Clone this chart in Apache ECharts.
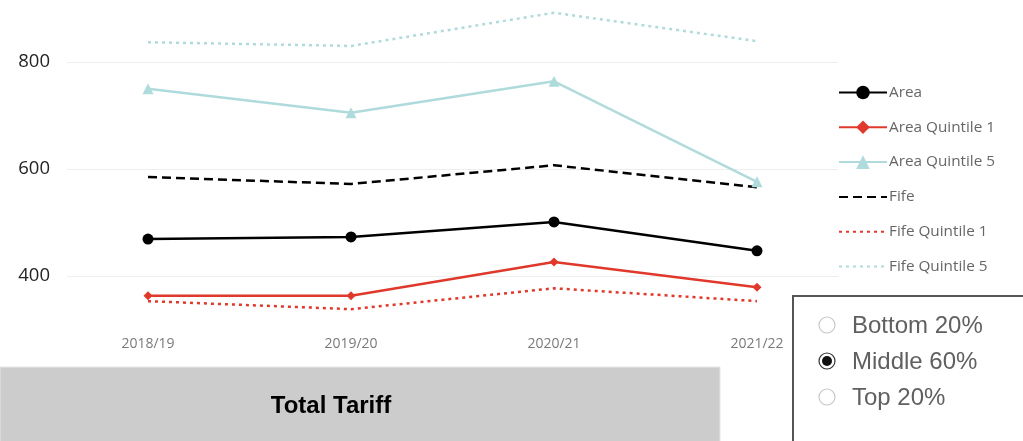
<!DOCTYPE html>
<html>
<head>
<meta charset="utf-8">
<script src="https://cdn.jsdelivr.net/npm/echarts@6/dist/echarts.min.js"></script>
<style>
  html, body { margin: 0; padding: 0; background: #fff; }
  #main { width: 1023px; height: 441px; }
</style>
</head>
<body>
<div id="main"></div>
<script>
const years = ["2018/19", "2019/20", "2020/21", "2021/22"];

const area = [469, 473, 501, 447];
const areaQ1 = [363, 363, 426, 379];
const areaQ5 = [750, 705, 764, 576];
const fife = [585, 572, 607, 566];
const fifeQ1 = [353, 338, 377, 353];
const fifeQ5 = [837, 830, 892, 839];

const radioOptions = ["Bottom 20%", "Middle 60%", "Top 20%"];
const selectedOption = "Middle 60%";

const RED = "#e0392c";
const TEAL = "#b0dbdc";

const chart = echarts.init(document.getElementById("main"));

// radio buttons in the box on the bottom right
const radioGraphics = [];
radioOptions.forEach((label, i) => {
  const cy = 325 + i * 36;
  radioGraphics.push({
    type: "circle",
    shape: { cx: 827, cy: cy, r: 8 },
    style: { fill: "#fff", stroke: label === selectedOption ? "#333" : "#c8c8c8", lineWidth: 1.2 },
    z: 10
  });
  if (label === selectedOption) {
    radioGraphics.push({
      type: "circle",
      shape: { cx: 827, cy: cy, r: 5 },
      style: { fill: "#111" },
      z: 11
    });
  }
  radioGraphics.push({
    type: "text",
    x: 852,
    y: cy + 1,
    style: {
      text: label,
      fill: "#606060",
      font: "24px 'Liberation Sans', Arial, sans-serif",
      verticalAlign: "middle"
    },
    z: 10
  });
});

const lineBase = {
  type: "line",
  xAxisIndex: 0,
  yAxisIndex: 0,
  animation: false
};

// legend entries; the Fife lines have no marker
const legendNames = ["Area", "Area Quintile 1", "Area Quintile 5", "Fife", "Fife Quintile 1", "Fife Quintile 5"];
const noMarker = ["Fife", "Fife Quintile 1", "Fife Quintile 5"];

const option = {
  animation: false,
  textStyle: { fontFamily: "'Open Sans', 'DejaVu Sans', sans-serif" },
  grid: [
    { left: 148, right: 266, top: 8.5, bottom: 111.5 },
    { left: 67, right: 185, top: 8.5, bottom: 111.5 }
  ],
  xAxis: [
    {
      type: "category",
      gridIndex: 0,
      data: years,
      boundaryGap: false,
      axisLine: { show: false },
      axisTick: { show: false },
      axisLabel: { color: "#7a7a7a", fontSize: 14, margin: 8 }
    },
    {
      type: "category",
      gridIndex: 1,
      data: years,
      show: false
    }
  ],
  yAxis: [
    {
      type: "value",
      gridIndex: 0,
      min: 300,
      max: 900,
      splitNumber: 3,
      show: false
    },
    {
      type: "value",
      gridIndex: 1,
      min: 300,
      max: 900,
      splitNumber: 3,
      axisLine: { show: false },
      axisTick: { show: false },
      axisLabel: {
        color: "#252423",
        fontSize: 18.5,
        margin: 17,
        showMinLabel: false,
        showMaxLabel: false
      },
      splitLine: {
        lineStyle: { color: "#eeeeee", width: 1 },
        showMinLine: false,
        showMaxLine: false
      }
    }
  ],
  legend: {
    orient: "vertical",
    left: 838,
    top: 85,
    padding: 0,
    itemWidth: 48,
    itemHeight: 17,
    itemGap: 19.8,
    textStyle: { color: "#666", fontSize: 15.3, padding: [0, 0, 0, -3] },
    data: legendNames.map(n => noMarker.includes(n)
      ? { name: n, itemStyle: { opacity: 0 } }
      : { name: n })
  },
  series: [
    Object.assign({}, lineBase, {
      name: "Area", data: area, z: 6,
      symbol: "circle", symbolSize: 11,
      itemStyle: { color: "#000" },
      lineStyle: { color: "#000", width: 2.5 }
    }),
    Object.assign({}, lineBase, {
      name: "Area Quintile 1", data: areaQ1, z: 6,
      symbol: "diamond", symbolSize: 9,
      itemStyle: { color: RED },
      lineStyle: { color: RED, width: 2.5 }
    }),
    Object.assign({}, lineBase, {
      name: "Area Quintile 5", data: areaQ5, z: 6,
      symbol: "triangle", symbolSize: 11,
      itemStyle: { color: TEAL },
      lineStyle: { color: TEAL, width: 2.5 }
    }),
    Object.assign({}, lineBase, {
      name: "Fife", data: fife, z: 5,
      symbol: "none",
      itemStyle: { color: "#000" },
      lineStyle: { color: "#000", width: 2.5, type: [9, 5] }
    }),
    Object.assign({}, lineBase, {
      name: "Fife Quintile 1", data: fifeQ1, z: 5,
      symbol: "none",
      itemStyle: { color: RED },
      lineStyle: { color: RED, width: 2.5, type: [3, 4] }
    }),
    Object.assign({}, lineBase, {
      name: "Fife Quintile 5", data: fifeQ5, z: 5,
      symbol: "none",
      itemStyle: { color: TEAL },
      lineStyle: { color: TEAL, width: 2.5, type: [3, 4] }
    })
  ],
  graphic: [
    // title bar
    {
      type: "rect",
      shape: { x: 0, y: 367, width: 720, height: 80 },
      style: { fill: "#cccccc", stroke: "#e6e6e6", lineWidth: 1 },
      z: 1
    },
    {
      type: "text",
      x: 331,
      y: 406,
      style: {
        text: "Total Tariff",
        fill: "#000",
        font: "bold 24px 'Liberation Sans', Arial, sans-serif",
        align: "center",
        verticalAlign: "middle"
      },
      z: 2
    },
    // slicer box
    {
      type: "rect",
      shape: { x: 793, y: 296, width: 240, height: 160 },
      style: { fill: "#fff", stroke: "#555", lineWidth: 2 },
      z: 9
    }
  ].concat(radioGraphics)
};

chart.setOption(option);
</script>
</body>
</html>
